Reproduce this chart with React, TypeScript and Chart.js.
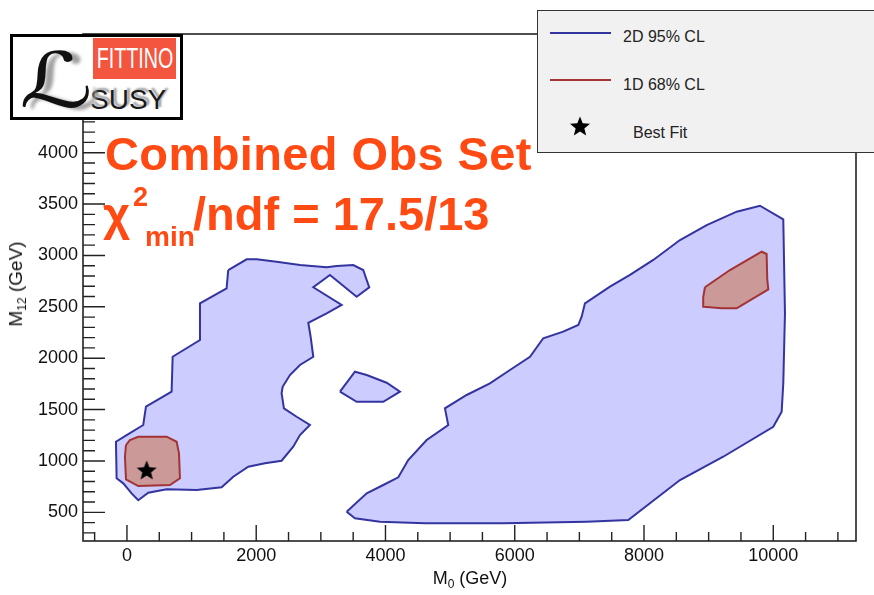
import React, { useEffect, useRef } from 'react';
import { Chart, registerables } from 'chart.js';

Chart.register(...registerables);

const FONT = '"Liberation Sans", Arial, Helvetica, sans-serif';

// Axis ranges in GeV
const M0_MIN = -680;
const M0_MAX = 11280;
const M12_MIN = 221;
const M12_MAX = 5155;

// Labelled (major) ticks and minor tick spacing
const M0_TICK_LABELS = [0, 2000, 4000, 6000, 8000, 10000];
const M12_TICK_LABELS = [500, 1000, 1500, 2000, 2500, 3000, 3500, 4000, 4500, 5000];
const M0_MINOR_STEP = 500;
const M12_MINOR_STEP = 100;

// 2D 95% CL contours, [M0, M12] in GeV
const LOW_MASS_95 = [
  [1567, 2858], [1852, 2962], [2007, 2962], [2316, 2939], [2677, 2907], [3090, 2885],
  [3245, 2897], [3501, 2907], [3656, 2858], [3709, 2761], [3749, 2690], [3554, 2598],
  [3141, 2810], [2883, 2690], [3322, 2518], [3090, 2437], [2806, 2345], [2842, 2209],
  [2883, 2014], [2677, 1934], [2522, 1836], [2409, 1722], [2393, 1658], [2429, 1512],
  [2626, 1430], [2831, 1350], [2677, 1252], [2573, 1139], [2393, 1002], [2135, 977],
  [1877, 944], [1645, 847], [1465, 743], [1078, 717], [614, 724], [330, 691],
  [175, 618], [72, 685], [-57, 782], [-160, 831], [-170, 1187], [-5, 1252],
  [252, 1350], [294, 1528], [691, 1674], [707, 2014], [1130, 2177], [1130, 2534],
  [1542, 2680],
];
const ISLAND_95 = [
  [3296, 1674], [3528, 1868], [3709, 1836], [4018, 1761], [4224, 1674], [3966, 1576], [3554, 1576],
];
const HIGH_MASS_95 = [
  [3399, 506], [3709, 685], [3966, 766], [4198, 841], [4352, 1009], [4637, 1204],
  [4971, 1350], [4920, 1512], [5256, 1642], [5616, 1756], [5926, 1885], [6236, 2014],
  [6441, 2194], [6750, 2258], [6983, 2323], [7035, 2404], [7086, 2534], [7473, 2696],
  [7783, 2810], [8143, 2956], [8557, 3150], [8970, 3296], [9434, 3426], [9794, 3484],
  [10155, 3352], [10181, 2437], [10155, 1756], [10130, 1479], [10000, 1333], [9226, 1041],
  [8557, 814], [8092, 588], [7757, 425], [7113, 409], [5822, 393], [4611, 393],
  [3914, 409], [3528, 442],
];

// 1D 68% CL contours, [M0, M12] in GeV
const LOW_MASS_68 = [
  [-15, 1155], [46, 1204], [175, 1236], [614, 1236], [769, 1187], [805, 1074],
  [820, 831], [665, 766], [175, 756], [-15, 821], [-31, 1041],
];
const HIGH_MASS_68 = [
  [8943, 2690], [9330, 2858], [9820, 3036], [9897, 3014], [9907, 2768], [9923, 2670],
  [9434, 2486], [9202, 2486], [8927, 2501], [8916, 2593],
];

// Best fit point [M0, M12]
const BEST_FIT = [305, 912];

const BLUE_LINE = '#3434a0';
const BLUE_FILL = '#ccccff';
const RED_LINE = '#a33333';
const RED_FILL = '#cc9999';
const TITLE_RED = '#ff4a14';

function stepRange(from: number, to: number, step: number): number[] {
  const out: number[] = [];
  for (let v = from; v <= to; v += step) out.push(v);
  return out;
}

function starPoints(cx: number, cy: number, R: number, r: number): [number, number][] {
  const pts: [number, number][] = [];
  for (let k = 0; k < 10; k++) {
    const rad = k % 2 === 0 ? R : r;
    const a = -Math.PI / 2 + (k * Math.PI) / 5;
    pts.push([cx + rad * Math.cos(a), cy + rad * Math.sin(a)]);
  }
  return pts;
}

function makeStarCanvas(): HTMLCanvasElement {
  const c = document.createElement('canvas');
  c.width = 24;
  c.height = 24;
  const g = c.getContext('2d')!;
  g.fillStyle = '#000';
  g.beginPath();
  starPoints(12, 13, 10.5, 4.6).forEach(([x, y], i) => (i ? g.lineTo(x, y) : g.moveTo(x, y)));
  g.closePath();
  g.fill();
  return c;
}

const closed = (pts: number[][]) => [...pts, pts[0]].map(([x, y]) => ({ x, y }));

function contour(label: string, pts: number[][], line: string, fill: string) {
  return {
    label,
    data: closed(pts),
    showLine: true,
    borderColor: line,
    borderWidth: 2,
    pointRadius: 0,
    fill: false,
    tension: 0,
    regionColor: fill,
  };
}

// Fills the closed contour regions underneath their outlines
const regionFill = {
  id: 'regionFill',
  beforeDatasetsDraw(chart: any) {
    const { ctx, chartArea: a } = chart;
    ctx.save();
    ctx.beginPath();
    ctx.rect(a.left, a.top, a.right - a.left, a.bottom - a.top);
    ctx.clip();
    const sets = chart.data.datasets;
    for (let i = sets.length - 1; i >= 0; i--) {
      const ds = sets[i];
      if (!ds.regionColor) continue;
      const pts = chart.getDatasetMeta(i).data;
      ctx.beginPath();
      pts.forEach((p: any, j: number) => (j ? ctx.lineTo(p.x, p.y) : ctx.moveTo(p.x, p.y)));
      ctx.closePath();
      ctx.fillStyle = ds.regionColor;
      ctx.fill();
    }
    ctx.restore();
  },
};

// Frame with inward-pointing major and minor ticks on the bottom and left axes
const frameTicks = {
  id: 'frameTicks',
  afterDatasetsDraw(chart: any) {
    const { ctx, chartArea: a, scales } = chart;
    const x = scales.x;
    const y = scales.y;
    ctx.save();
    ctx.strokeStyle = '#222';
    ctx.lineWidth = 1.4;
    ctx.beginPath();
    stepRange(-500, 11000, M0_MINOR_STEP).forEach((v) => {
      const px = x.getPixelForValue(v);
      const len = M0_TICK_LABELS.includes(v) ? 16 : 9;
      ctx.moveTo(px, a.bottom);
      ctx.lineTo(px, a.bottom - len);
    });
    stepRange(300, 5100, M12_MINOR_STEP).forEach((v) => {
      const py = y.getPixelForValue(v);
      const len = M12_TICK_LABELS.includes(v) ? 22 : 12;
      ctx.moveTo(a.left, py);
      ctx.lineTo(a.left + len, py);
    });
    ctx.stroke();
    ctx.lineWidth = 1.6;
    ctx.strokeRect(a.left, a.top, a.right - a.left, a.bottom - a.top);
    ctx.restore();
  },
};

function Txt(props: {
  x: number;
  baseline: number;
  size: number;
  bold?: boolean;
  color?: string;
  family?: string;
  style?: React.CSSProperties;
  children: React.ReactNode;
}) {
  const { x, baseline, size, bold, color, family, style, children } = props;
  return (
    <div
      style={{
        position: 'absolute',
        left: x,
        top: baseline - 0.8465 * size,
        fontFamily: family || FONT,
        fontSize: size,
        lineHeight: `${size}px`,
        fontWeight: bold ? 'bold' : 'normal',
        color: color || '#000',
        whiteSpace: 'nowrap',
        ...style,
      }}
    >
      {children}
    </div>
  );
}

function LegendStar() {
  const pts = starPoints(11, 12, 10.5, 4.6)
    .map(([x, y]) => `${x.toFixed(2)},${y.toFixed(2)}`)
    .join(' ');
  return (
    <svg width={22} height={24} style={{ position: 'absolute', left: 569, top: 115 }}>
      <polygon points={pts} fill="#000" />
    </svg>
  );
}

export default function App() {
  const ref = useRef<HTMLCanvasElement>(null);

  useEffect(() => {
    const star = makeStarCanvas();
    const tickFont = { family: FONT, size: 18 };
    const chart = new Chart(ref.current!, {
      type: 'scatter',
      data: {
        datasets: [
          {
            label: 'Best Fit',
            data: [{ x: BEST_FIT[0], y: BEST_FIT[1] }],
            pointStyle: star as any,
            pointRadius: 10,
            showLine: false,
          } as any,
          contour('1D 68% CL', LOW_MASS_68, RED_LINE, RED_FILL),
          contour('1D 68% CL', HIGH_MASS_68, RED_LINE, RED_FILL),
          contour('2D 95% CL', ISLAND_95, BLUE_LINE, BLUE_FILL),
          contour('2D 95% CL', HIGH_MASS_95, BLUE_LINE, BLUE_FILL),
          contour('2D 95% CL', LOW_MASS_95, BLUE_LINE, BLUE_FILL),
        ],
      },
      options: {
        animation: false,
        responsive: false,
        devicePixelRatio: 1,
        layout: { padding: { top: 34, right: 18, left: 0, bottom: 0 } },
        plugins: { legend: { display: false }, tooltip: { enabled: false } },
        scales: {
          x: {
            type: 'linear',
            min: M0_MIN,
            max: M0_MAX,
            grid: { display: false, drawTicks: false },
            border: { display: false },
            afterBuildTicks: (s: any) => {
              s.ticks = M0_TICK_LABELS.map((value) => ({ value }));
            },
            afterFit: (s: any) => {
              s.height = 54;
            },
            ticks: {
              padding: 4,
              color: '#111',
              font: tickFont,
              autoSkip: false,
              maxRotation: 0,
              callback: (v: any) => String(v),
            },
          },
          y: {
            type: 'linear',
            min: M12_MIN,
            max: M12_MAX,
            grid: { display: false, drawTicks: false },
            border: { display: false },
            afterBuildTicks: (s: any) => {
              s.ticks = M12_TICK_LABELS.map((value) => ({ value }));
            },
            afterFit: (s: any) => {
              s.width = 83;
            },
            ticks: {
              padding: 5,
              color: '#111',
              font: tickFont,
              autoSkip: false,
              callback: (v: any) => String(v),
            },
          },
        },
      } as any,
      plugins: [regionFill, frameTicks],
    });
    return () => chart.destroy();
  }, []);

  return (
    <div
      style={{
        position: 'fixed',
        left: 0,
        top: 0,
        width: 874,
        height: 595,
        overflow: 'hidden',
        background: '#fff',
      }}
    >
      <canvas
        ref={ref}
        width={874}
        height={595}
        style={{ position: 'absolute', left: 0, top: 0, width: 874, height: 595 }}
      />

      {/* Axis titles */}
      <div
        style={{
          position: 'absolute',
          left: 470,
          top: 579,
          transform: 'translate(-50%, -50%)',
          fontFamily: FONT,
          fontSize: 18,
          lineHeight: '18px',
          color: '#111',
          whiteSpace: 'nowrap',
        }}
      >
        M<span style={{ fontSize: 12, position: 'relative', top: 4 }}>0</span> (GeV)
      </div>
      <div
        style={{
          position: 'absolute',
          left: 17,
          top: 284,
          transform: 'translate(-50%, -50%) rotate(-90deg)',
          fontFamily: FONT,
          fontSize: 19,
          lineHeight: '19px',
          color: '#111',
          whiteSpace: 'nowrap',
        }}
      >
        M<span style={{ fontSize: 12, position: 'relative', top: 4 }}>12</span> (GeV)
      </div>

      {/* Fit summary */}
      <Txt x={105} baseline={170} size={47} bold color={TITLE_RED} style={{ letterSpacing: 0.4 }}>
        Combined Obs Set
      </Txt>
      <Txt x={103} baseline={230} size={47} bold color={TITLE_RED}>
        χ
      </Txt>
      <Txt x={133} baseline={207} size={27} bold color={TITLE_RED}>
        2
      </Txt>
      <Txt x={145} baseline={247} size={28} bold color={TITLE_RED}>
        min
      </Txt>
      <Txt x={193} baseline={230} size={47} bold color={TITLE_RED}>
        /ndf = 17.5/13
      </Txt>

      {/* Legend */}
      <div
        style={{
          position: 'absolute',
          left: 537,
          top: 10,
          width: 360,
          height: 143,
          boxSizing: 'border-box',
          border: '1.5px solid #333',
          background: '#f1f1f1',
        }}
      />
      <div style={{ position: 'absolute', left: 550, top: 32, width: 61, height: 2, background: BLUE_LINE }} />
      <Txt x={623} baseline={43} size={16} color="#222">
        2D 95% CL
      </Txt>
      <div style={{ position: 'absolute', left: 550, top: 79, width: 61, height: 2, background: RED_LINE }} />
      <Txt x={623} baseline={91} size={16} color="#222">
        1D 68% CL
      </Txt>
      <LegendStar />
      <Txt x={633} baseline={139} size={16} color="#222">
        Best Fit
      </Txt>

      {/* Logo */}
      <div
        style={{
          position: 'absolute',
          left: 10,
          top: 34,
          width: 173,
          height: 86,
          boxSizing: 'border-box',
          border: '3px solid #000',
          background: '#fff',
          overflow: 'hidden',
        }}
      >
        <div
          style={{
            position: 'absolute',
            left: 80,
            top: 1,
            width: 83,
            height: 41,
            background: '#f4553f',
          }}
        />
        <div
          style={{
            position: 'absolute',
            left: 41.5,
            top: 1,
            width: 160,
            height: 41,
            fontFamily: FONT,
            fontSize: 29,
            lineHeight: '41px',
            color: '#fff',
            textAlign: 'center',
            transform: 'scaleX(0.68)',
            whiteSpace: 'nowrap',
          }}
        >
          FITTINO
        </div>
        <Txt
          x={77}
          baseline={73}
          size={28}
          color="#1a1a1a"
          style={{ textShadow: '3px -2px 2px #9a9a9a' }}
        >
          SUSY
        </Txt>
        <Txt
          x={6}
          baseline={70}
          size={76}
          family='"DejaVu Serif", "DejaVu Sans", serif'
          color="#111"
          style={{
            textShadow: '6px 2px 3px #a0a0a0',
            transform: 'scaleX(1.35)',
            transformOrigin: 'left bottom',
          }}
        >
          ℒ
        </Txt>
      </div>
    </div>
  );
}
